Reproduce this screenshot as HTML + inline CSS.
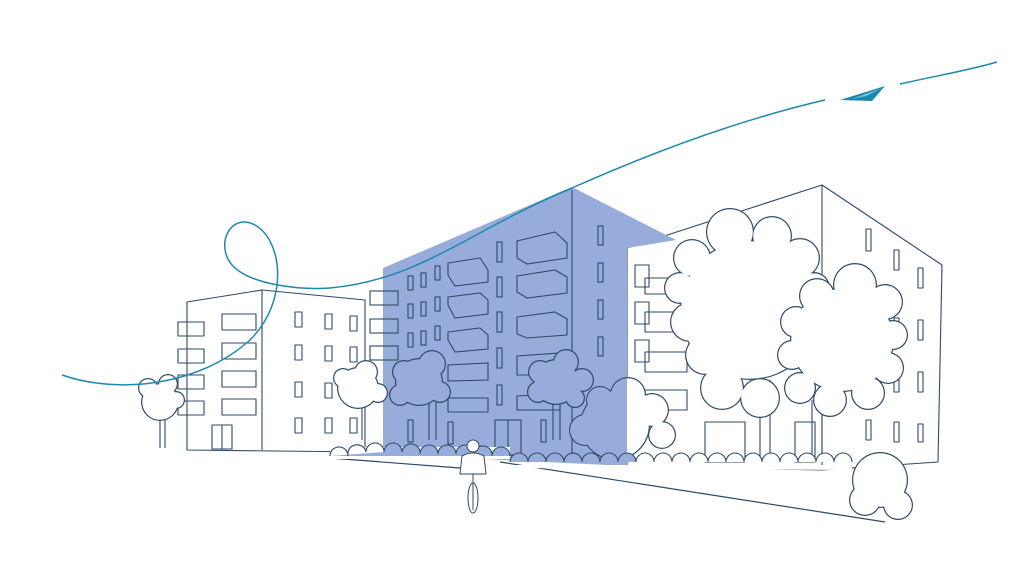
<!DOCTYPE html>
<html><head><style>html,body{margin:0;padding:0;background:#fff}svg{display:block}</style></head><body>
<svg width="1024" height="576" viewBox="0 0 1024 576" xmlns="http://www.w3.org/2000/svg">
<defs><clipPath id="lb"><rect x="0" y="0" width="627" height="576"/></clipPath></defs>
<g fill="none" stroke="#2e4a68" stroke-width="1.1" stroke-linejoin="round">
<path d="M187 302 L262 290 L365 300 L365 452 L187 450 Z" fill="#fff"/>
<line x1="262" y1="290" x2="262" y2="450"/>
<rect x="178" y="322" width="26" height="14"/><rect x="178" y="349" width="26" height="14"/><rect x="178" y="375" width="26" height="14"/><rect x="178" y="401" width="26" height="14"/>
<rect x="222" y="314" width="34" height="16"/><rect x="222" y="343" width="34" height="16"/><rect x="222" y="371" width="34" height="16"/><rect x="222" y="399" width="34" height="16"/>
<rect x="295" y="312" width="7" height="15"/><rect x="325" y="314" width="7" height="15"/><rect x="350" y="316" width="7" height="15"/>
<rect x="295" y="345" width="7" height="15"/><rect x="325" y="346" width="7" height="15"/><rect x="350" y="347" width="7" height="15"/>
<rect x="295" y="382" width="7" height="15"/><rect x="325" y="383" width="7" height="15"/>
<rect x="295" y="418" width="7" height="15"/><rect x="325" y="418" width="7" height="15"/><rect x="350" y="418" width="7" height="15"/>
<rect x="212" y="425" width="20" height="24"/><line x1="222" y1="425" x2="222" y2="449"/>
<path d="M627 248 L822 185 L942 265 L938 462 L822 470 L627 466 Z" fill="#fff"/>
<line x1="822" y1="185" x2="822" y2="470"/>
<rect x="866" y="229" width="5" height="22"/><rect x="894" y="250" width="5" height="20"/><rect x="918" y="268" width="5" height="20"/>
<rect x="866" y="310" width="5" height="20"/><rect x="894" y="318" width="5" height="20"/><rect x="918" y="320" width="5" height="20"/>
<rect x="866" y="370" width="5" height="20"/><rect x="894" y="372" width="5" height="20"/><rect x="918" y="372" width="5" height="20"/>
<rect x="866" y="420" width="5" height="20"/><rect x="894" y="422" width="5" height="20"/><rect x="918" y="424" width="5" height="18"/>
<rect x="635" y="265" width="14" height="22"/><rect x="645" y="278" width="40" height="16"/>
<rect x="635" y="302" width="14" height="22"/><rect x="645" y="312" width="42" height="20"/>
<rect x="635" y="340" width="14" height="22"/><rect x="645" y="352" width="42" height="20"/>
<rect x="645" y="390" width="42" height="20"/>
<rect x="705" y="422" width="40" height="40"/><rect x="795" y="422" width="20" height="40"/>
</g>
<path d="M383 268 L572 187 L676 240 L627 248 L627 466 L383 454 Z" fill="#97acdb"/>
<g fill="none" stroke="#2e4a68" stroke-width="1.1">
<line x1="572" y1="190" x2="572" y2="460"/>
<rect x="370" y="291" width="28" height="14"/><rect x="370" y="319" width="28" height="14"/><rect x="370" y="346" width="28" height="14"/>
<rect x="408" y="276" width="5" height="14"/><rect x="421" y="273" width="5" height="14"/><rect x="435" y="266" width="5" height="14"/>
<rect x="408" y="304" width="5" height="14"/><rect x="421" y="302" width="5" height="14"/><rect x="435" y="297" width="5" height="14"/>
<rect x="408" y="333" width="5" height="14"/><rect x="421" y="331" width="5" height="14"/><rect x="435" y="326" width="5" height="14"/>
<path d="M448 263 L480 258 L488 270 L488 282 L455 286 L448 275 Z"/><path d="M448 297 L480 293 L488 300 L488 314 L455 318 L448 305 Z"/>
<path d="M448 332 L480 328 L488 335 L488 349 L455 352 L448 340 Z"/>
<path d="M448 365 L488 363 L488 380 L448 381 Z"/><path d="M448 398 L488 398 L488 412 L448 412 Z"/>
<rect x="497" y="242" width="5" height="20"/><rect x="497" y="277" width="5" height="20"/><rect x="497" y="312" width="5" height="20"/><rect x="497" y="348" width="5" height="20"/><rect x="497" y="385" width="5" height="20"/>
<path d="M517 241 L555 232 L567 243 L567 258 L527 264 L517 258 Z"/><path d="M517 276 L555 270 L567 277 L567 293 L527 298 L517 292 Z"/>
<path d="M517 317 L555 312 L567 319 L567 335 L527 338 L517 334 Z"/><path d="M517 356 L560 353 L567 360 L567 375 L517 375 Z"/><path d="M517 396 L560 394 L560 410 L517 410 Z"/>
<rect x="598" y="226" width="5" height="19"/><rect x="598" y="263" width="5" height="19"/><rect x="598" y="300" width="5" height="19"/><rect x="598" y="337" width="5" height="19"/>
<rect x="408" y="420" width="5" height="22"/><rect x="448" y="422" width="5" height="22"/><rect x="495" y="420" width="26" height="35"/><line x1="508" y1="420" x2="508" y2="455"/><rect x="541" y="420" width="5" height="22"/>
</g>
<g fill="none" stroke="#2e4a68" stroke-width="1.2">
<path d="M330 458 L460 468"/><path d="M500 462 L885 522"/>
</g>
<!-- trunks -->
<g stroke="#2e4a68" stroke-width="1.1" fill="none">
<line x1="160" y1="420" x2="160" y2="448"/><line x1="165" y1="420" x2="165" y2="448"/>
<line x1="362" y1="405" x2="362" y2="440"/><line x1="429" y1="395" x2="429" y2="440"/><line x1="436" y1="395" x2="436" y2="440"/>
<line x1="553" y1="398" x2="553" y2="440"/><line x1="560" y1="398" x2="560" y2="440"/>
<line x1="760" y1="380" x2="760" y2="458"/><line x1="770" y1="380" x2="770" y2="458"/><line x1="812" y1="400" x2="812" y2="458"/><line x1="822" y1="400" x2="822" y2="458"/>
</g>
<!-- small trees white -->
<g fill="#2e4a68"><circle cx="160" cy="402" r="19"/><circle cx="148" cy="388" r="10"/><circle cx="168" cy="384" r="10"/><circle cx="176" cy="400" r="9"/>
<circle cx="358" cy="388" r="21"/><circle cx="366" cy="372" r="12"/><circle cx="343" cy="378" r="10"/><circle cx="378" cy="393" r="10"/></g>
<g fill="#fff"><circle cx="160" cy="402" r="17.8"/><circle cx="148" cy="388" r="8.8"/><circle cx="168" cy="384" r="8.8"/><circle cx="176" cy="400" r="7.8"/>
<circle cx="358" cy="388" r="19.8"/><circle cx="366" cy="372" r="10.8"/><circle cx="343" cy="378" r="8.8"/><circle cx="378" cy="393" r="8.8"/></g>
<!-- blue trees -->
<g fill="#2e4a68"><circle cx="419" cy="382" r="24"/><circle cx="432" cy="364" r="14"/><circle cx="404" cy="372" r="12"/><circle cx="400" cy="395" r="11"/><circle cx="440" cy="392" r="11"/>
<circle cx="556" cy="382" r="23"/><circle cx="566" cy="362" r="13"/><circle cx="540" cy="372" r="12"/><circle cx="538" cy="392" r="11"/><circle cx="582" cy="380" r="12"/><circle cx="575" cy="398" r="10"/></g>
<g fill="#97acdb"><circle cx="419" cy="382" r="22.8"/><circle cx="432" cy="364" r="12.8"/><circle cx="404" cy="372" r="10.8"/><circle cx="400" cy="395" r="9.8"/><circle cx="440" cy="392" r="9.8"/>
<circle cx="556" cy="382" r="21.8"/><circle cx="566" cy="362" r="11.8"/><circle cx="540" cy="372" r="10.8"/><circle cx="538" cy="392" r="9.8"/><circle cx="582" cy="380" r="10.8"/><circle cx="575" cy="398" r="8.8"/></g>
<!-- big bush behind -->
<g fill="#2e4a68"><circle cx="615" cy="425" r="35"/><circle cx="628" cy="395" r="18"/><circle cx="600" cy="400" r="14"/><circle cx="652" cy="410" r="17"/><circle cx="662" cy="435" r="14"/><circle cx="585" cy="430" r="16"/></g>
<g fill="#fff"><circle cx="615" cy="425" r="33.8"/><circle cx="628" cy="395" r="16.8"/><circle cx="600" cy="400" r="12.8"/><circle cx="652" cy="410" r="15.8"/><circle cx="662" cy="435" r="12.8"/><circle cx="585" cy="430" r="14.8"/></g>
<g fill="#97acdb" clip-path="url(#lb)"><circle cx="615" cy="425" r="33.8"/><circle cx="628" cy="395" r="16.8"/><circle cx="600" cy="400" r="12.8"/><circle cx="652" cy="410" r="15.8"/><circle cx="662" cy="435" r="12.8"/><circle cx="585" cy="430" r="14.8"/></g>
<!-- tree A -->
<g fill="#2e4a68"><circle cx="750" cy="310" r="70"/><circle cx="730" cy="232" r="24"/><circle cx="772" cy="236" r="20"/><circle cx="800" cy="258" r="20"/><circle cx="814" cy="288" r="16"/><circle cx="692" cy="258" r="19"/><circle cx="680" cy="288" r="16"/><circle cx="690" cy="322" r="20"/><circle cx="705" cy="355" r="20"/><circle cx="722" cy="388" r="22"/><circle cx="760" cy="398" r="20"/></g>
<g fill="#fff"><circle cx="750" cy="310" r="68.8"/><circle cx="730" cy="232" r="22.8"/><circle cx="772" cy="236" r="18.8"/><circle cx="800" cy="258" r="18.8"/><circle cx="814" cy="288" r="14.8"/><circle cx="692" cy="258" r="17.8"/><circle cx="680" cy="288" r="14.8"/><circle cx="690" cy="322" r="18.8"/><circle cx="705" cy="355" r="18.8"/><circle cx="722" cy="388" r="20.8"/><circle cx="760" cy="398" r="18.8"/></g>
<!-- tree B -->
<g fill="#2e4a68"><circle cx="842" cy="340" r="52"/><circle cx="855" cy="285" r="22"/><circle cx="885" cy="302" r="18"/><circle cx="893" cy="335" r="15"/><circle cx="888" cy="368" r="16"/><circle cx="868" cy="393" r="17"/><circle cx="830" cy="400" r="17"/><circle cx="800" cy="388" r="16"/><circle cx="792" cy="355" r="15"/><circle cx="796" cy="322" r="16"/><circle cx="817" cy="296" r="18"/></g>
<g fill="#fff"><circle cx="842" cy="340" r="50.8"/><circle cx="855" cy="285" r="20.8"/><circle cx="885" cy="302" r="16.8"/><circle cx="893" cy="335" r="13.8"/><circle cx="888" cy="368" r="14.8"/><circle cx="868" cy="393" r="15.8"/><circle cx="830" cy="400" r="15.8"/><circle cx="800" cy="388" r="14.8"/><circle cx="792" cy="355" r="13.8"/><circle cx="796" cy="322" r="14.8"/><circle cx="817" cy="296" r="16.8"/></g>
<!-- bush rows -->
<path d="M330 447 h180 v12 L330 459 Z" fill="#fff"/>
<path d="M330 456 a9 9 0 0 1 18 0 a9 9 0 0 1 18 -4 a9 9 0 0 1 18 0 a9 9 0 0 1 18 0 a9 9 0 0 1 18 2 a9 9 0 0 1 18 0 a9 9 0 0 1 18 0 a9 9 0 0 1 18 0 a9 9 0 0 1 18 2 a9 9 0 0 1 18 0" fill="#97acdb" stroke="#2e4a68" stroke-width="1.1"/>
<path d="M330 456 a9 9 0 0 1 18 0 a9 9 0 0 1 18 -4 a9 9 0 0 1 18 0" fill="#fff" stroke="#2e4a68" stroke-width="1.1"/>
<path d="M510 465 L852 465 L852 470 L510 468 Z" fill="#fff"/>
<path d="M510 462 a9 9 0 0 1 18 0 a9 9 0 0 1 18 0 a9 9 0 0 1 18 0 a9 9 0 0 1 18 0 a9 9 0 0 1 18 0 a9 9 0 0 1 18 0 a9 9 0 0 1 18 0" fill="#97acdb" stroke="#2e4a68" stroke-width="1.1"/>
<path d="M636 462 a9 9 0 0 1 18 0 a9 9 0 0 1 18 0 a9 9 0 0 1 18 0 a9 9 0 0 1 18 0 a9 9 0 0 1 18 0 a9 9 0 0 1 18 0 a9 9 0 0 1 18 0 a9 9 0 0 1 18 0 a9 9 0 0 1 18 0 a9 9 0 0 1 18 0 a9 9 0 0 1 18 0 a9 9 0 0 1 18 0" fill="#fff" stroke="#2e4a68" stroke-width="1.1"/>
<g fill="#2e4a68"><circle cx="880" cy="480" r="28"/><circle cx="898" cy="505" r="15"/><circle cx="865" cy="500" r="16"/></g>
<g fill="#fff"><circle cx="880" cy="480" r="26.8"/><circle cx="898" cy="505" r="13.8"/><circle cx="865" cy="500" r="14.8"/></g>
<!-- cyclist -->
<g fill="#fff" stroke="#2e4a68" stroke-width="1">
<ellipse cx="473" cy="498" rx="5" ry="15"/>
<path d="M462 456 Q473 450 484 456 L486 474 L460 474 Z"/>
<circle cx="473" cy="446" r="6"/>
<line x1="473" y1="474" x2="473" y2="510"/>
</g>
<path d="M62 375 C120 395 200 385 250 340 C290 300 282 240 255 225 C230 212 215 245 232 265 C250 285 300 290 330 288 C420 280 470 230 572 188 C680 140 760 115 825 100" fill="none" stroke="#1d88ad" stroke-width="1.5"/>
<path d="M900 84 C940 75 970 70 997 62" fill="none" stroke="#1d88ad" stroke-width="1.5"/>
<path d="M840 100 L885 86 L872 101 Z" fill="#1d88ad"/><path d="M852 99 L882 88 L866 96 Z" fill="#7fc6de"/>
</svg>
</body></html>
